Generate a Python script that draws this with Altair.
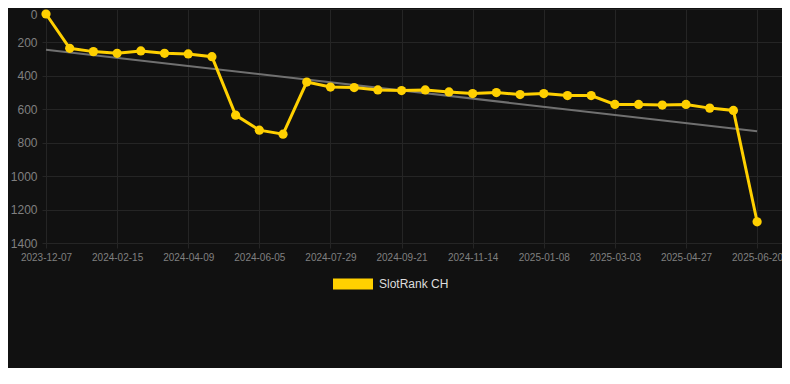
import altair as alt
import pandas as pd

dates = [
    "2023-12-07", "2023-12-30", "2024-01-22", "2024-02-15", "2024-03-03",
    "2024-03-21", "2024-04-09", "2024-04-28", "2024-05-17", "2024-06-05",
    "2024-06-23", "2024-07-11", "2024-07-29", "2024-08-16", "2024-09-03",
    "2024-09-21", "2024-10-09", "2024-10-27", "2024-11-14", "2024-12-02",
    "2024-12-20", "2025-01-08", "2025-01-26", "2025-02-13", "2025-03-03",
    "2025-03-21", "2025-04-08", "2025-04-27", "2025-05-15", "2025-06-02",
    "2025-06-20",
]
ranks = [
    30, 235, 255, 265, 251, 265, 269, 285, 635, 725,
    749, 437, 467, 470, 484, 488, 484, 496, 506, 500,
    512, 506, 518, 518, 571, 571, 575, 571, 593, 607,
    1273,
]
series_name = "SlotRank CH"
y_ticks = [0, 200, 400, 600, 800, 1000, 1200, 1400]
label_idx = list(range(0, len(dates), 3))

df = pd.DataFrame({"idx": list(range(len(dates))), "date": dates, "rank": ranks})

label_expr = "[" + ",".join(f"'{d}'" for d in dates) + "][datum.value]"

grid_c = "#252525"
x = alt.X(
    "idx:Q",
    scale=alt.Scale(domain=[-0.169, 31.05], nice=False, zero=False),
    axis=alt.Axis(
        values=label_idx, labelExpr=label_expr, title=None, grid=True,
        gridColor=grid_c, domain=False, ticks=True, tickColor=grid_c,
        tickSize=5, labelColor="#808080", labelFontSize=10, labelPadding=4,
        labelFlush=False, labelOverlap=False, labelFont="Liberation Sans",
    ),
)
y = alt.Y(
    "rank:Q",
    scale=alt.Scale(domain=[0, 1400], reverse=True, nice=False, zero=False),
    axis=alt.Axis(
        values=y_ticks, format="d", title=None, grid=True, gridColor=grid_c,
        domain=False, ticks=False, labelColor="#808080", labelFontSize=12,
        labelPadding=5, labelFont="Liberation Sans",
        labelBaseline={"condition": {"test": "datum.value == 0", "value": "top"},
                       "value": "middle"},
    ),
)

base = alt.Chart(df)

trend = base.transform_regression("idx", "rank", method="linear").mark_line(
    color="#707070", strokeWidth=2
).encode(x=x, y=y)

line = base.mark_line(color="#ffd000", strokeWidth=3).encode(x=x, y=y)

points = base.mark_circle(size=85, opacity=1).encode(
    x=x,
    y=y,
    color=alt.Color(
        "series:N",
        scale=alt.Scale(domain=[series_name], range=["#ffd000"]),
        legend=alt.Legend(
            title=None, orient="none", legendX=291, legendY=255,
            symbolType="M-1,-0.275H1V0.275H-1Z", symbolSize=1600,
            symbolOpacity=1, symbolStrokeWidth=0, labelFontSize=12,
            labelColor="#dddddd", labelFont="Liberation Sans", padding=0,
            labelOffset=6,
        ),
    ),
).transform_calculate(series=f"'{series_name}'")

chart = alt.layer(trend, line, points).properties(
    width=740,
    height=234,
    background="#111111",
    autosize=alt.AutoSizeParams(type="none"),
    padding={"left": 34, "top": 1, "right": 0, "bottom": 125},
).configure_view(stroke=None)

chart.save("out.html", embed_options={"renderer": "svg", "actions": False})
